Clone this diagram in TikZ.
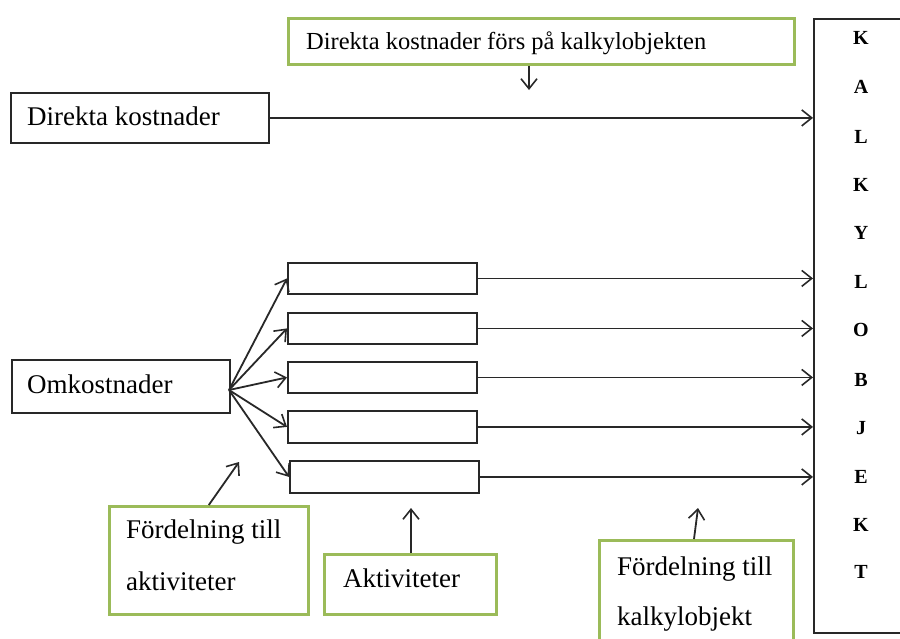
\documentclass[tikz,border=0pt]{standalone}
\usepackage{fontspec}
\setmainfont{Liberation Serif}
\usetikzlibrary{arrows.meta}
\definecolor{ogreen}{RGB}{155,187,89}
\definecolor{lineblack}{RGB}{40,40,40}
\begin{document}
\begin{tikzpicture}[x=1pt,y=-1pt,
  blackbox/.style={draw=lineblack,line width=1.8pt,rectangle,inner sep=0pt,anchor=north west},
  greenbox/.style={draw=ogreen,line width=2.6pt,rectangle,inner sep=0pt,anchor=north west},
  txt/.style={inner sep=0pt,anchor=base west,font=\fontsize{27}{27}\selectfont},
  letter/.style={inner sep=0pt,font=\fontsize{20}{20}\selectfont\bfseries},
  arr/.style={draw=lineblack,line width=1.8pt,-{Straight Barb[length=10pt,width=16pt,line width=1.6pt]}}]
\clip (0,0) rectangle (900,638);
\fill[white] (0,0) rectangle (900,638);
% tall object box
\node[blackbox,minimum width=110pt,minimum height=614pt] (kb) at (813,18) {};
\foreach \l/\y [count=\i] in {K/38,A/87,L/137,K/185,Y/233,L/282,O/330,B/380,J/428,E/477,K/525,T/572}
  \node[letter] (l\i) at (861,\y) {\l};
% top green box
\node[greenbox,minimum width=506pt,minimum height=46pt] (g1) at (287,17) {};
\node[txt,font=\fontsize{24.5}{24.5}\selectfont] (t1) at (306,49) {Direkta kostnader förs på kalkylobjekten};
\coordinate (a1) at (529,90);
\draw[arr] (g1.south -| a1) -- (a1);
% direkta kostnader
\node[blackbox,minimum width=258pt,minimum height=50pt] (dk) at (10,92) {};
\node[txt] (tdk) at (27,125) {Direkta kostnader};
\draw[arr] (dk.east) -- (dk.east -| kb.west);
% omkostnader
\node[blackbox,minimum width=218pt,minimum height=53pt] (om) at (11,359) {};
\node[txt] (tom) at (27,393) {Omkostnader};
\coordinate (o) at (229,390);
% activity boxes
\node[blackbox,minimum width=189pt,minimum height=31pt] (b1) at (287,262) {};
\node[blackbox,minimum width=189pt,minimum height=31pt] (b2) at (287,312) {};
\node[blackbox,minimum width=189pt,minimum height=31pt] (b3) at (287,361) {};
\node[blackbox,minimum width=189pt,minimum height=32pt] (b4) at (287,410) {};
\node[blackbox,minimum width=189pt,minimum height=32pt] (b5) at (289,460) {};
\foreach \b in {b1,b2,b3,b4,b5}{
  \draw[arr] (o) -- (\b.west);
  \draw[arr] (\b.east) -- (\b.east -| kb.west);
}
% Fördelning till aktiviteter
\node[greenbox,minimum width=199pt,minimum height=108pt] (g2) at (108,505) {};
\node[txt] (t2a) at (126,538) {Fördelning till};
\node[txt] (t2b) at (126,590) {aktiviteter};
\coordinate (a2) at (239,462);
\draw[arr] (g2.north) -- (a2);
% Aktiviteter
\node[greenbox,minimum width=172pt,minimum height=60pt] (g3) at (323,553) {};
\node[txt] (t3) at (343,587) {Aktiviteter};
\coordinate (a3) at (411,508);
\draw[arr] (g3.north -| a3) -- (a3);
% Fördelning till kalkylobjekt
\node[greenbox,minimum width=194pt,minimum height=120pt] (g4) at (598,539) {};
\node[txt] (t4a) at (617,575) {Fördelning till};
\node[txt] (t4b) at (617,625) {kalkylobjekt};
\coordinate (a4) at (698,508);
\draw[arr] (694,539) -- (a4);
\end{tikzpicture}
\end{document}
